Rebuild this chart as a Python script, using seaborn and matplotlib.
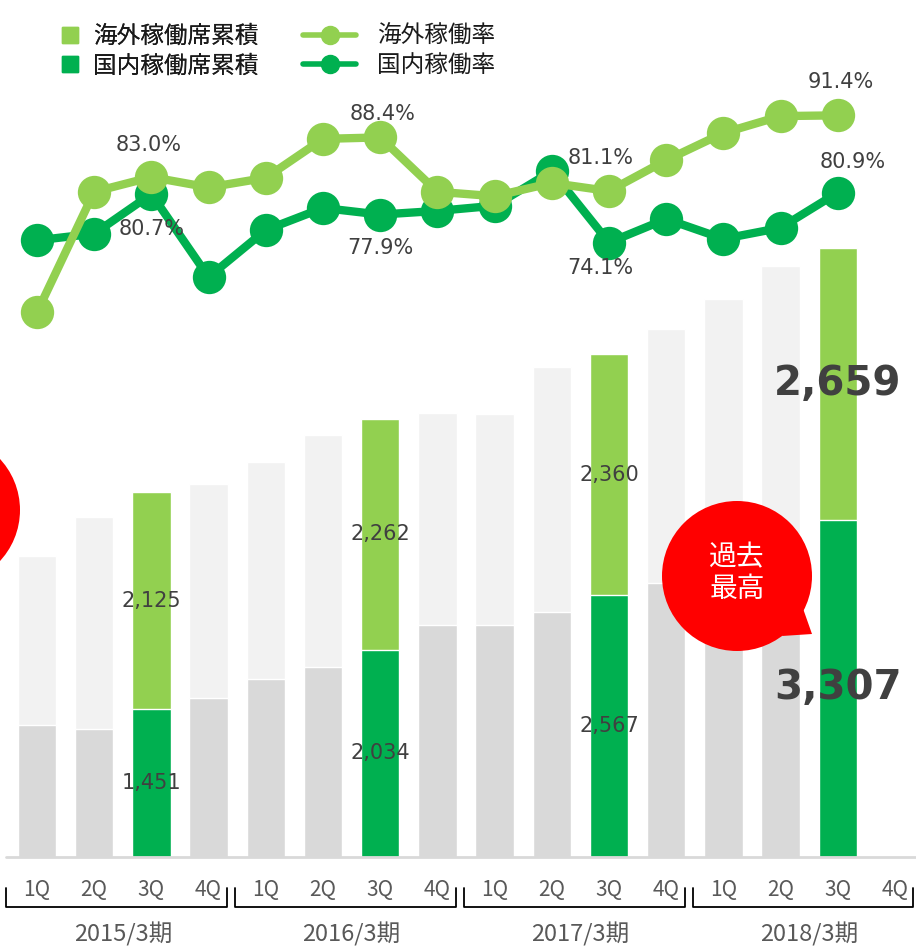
import numpy as np
import pandas as pd
import seaborn as sns
import matplotlib.pyplot as plt
from matplotlib.lines import Line2D
from matplotlib.patches import Circle, Polygon

# quarters (4Q of 2018/3期 has no data yet)
fiscal_years = ["2015/3期", "2016/3期", "2017/3期", "2018/3期"]
quarters = ["1Q", "2Q", "3Q", "4Q"]

# cumulative seats (国内 / 海外)
domestic_seats = [1294, 1255, 1451, 1559, 1745, 1863, 2034, 2275,
                  2275, 2402, 2567, 2686, 2880, 3090, 3307, np.nan]
overseas_seats = [1657, 2078, 2125, 2098, 2128, 2274, 2262, 2078,
                  2068, 2402, 2360, 2490, 2594, 2704, 2659, np.nan]

# utilisation rates (%)
overseas_rate = [64.6, 81.0, 83.0, 81.6, 82.9, 88.2, 88.4, 81.0,
                 80.4, 82.2, 81.1, 85.3, 89.0, 91.3, 91.4]
domestic_rate = [74.4, 75.3, 80.7, 69.4, 75.8, 78.8, 77.9, 78.4,
                 79.1, 83.8, 74.1, 77.3, 74.6, 76.1, 80.9]

# which points get a % label, and label offsets (points)
overseas_labels = {2: (-2, 23), 6: (2, 17), 10: (-6, 24), 14: (2, 24)}
domestic_labels = {2: (0, -25), 6: (0, -24), 10: (-6, -18), 14: (11, 22)}

LIGHT_GREEN = "#92D050"
GREEN = "#00B050"
LIGHT_GRAY = "#F2F2F2"
GRAY = "#D9D9D9"
TEXT = "#404040"

sns.set_theme(style="white")
plt.rcParams["font.family"] = ["DejaVu Sans", "Noto Sans CJK JP"]

keys = [f"{fy}-{q}" for fy in fiscal_years for q in quarters]
df = pd.DataFrame({
    "key": keys,
    "quarter": quarters * len(fiscal_years),
    "domestic": domestic_seats,
    "overseas": overseas_seats,
})
df["total"] = df["domestic"] + df["overseas"]
highlight = df["quarter"] == "3Q"
top_pal = {k: (LIGHT_GREEN if h else LIGHT_GRAY) for k, h in zip(keys, highlight)}
bot_pal = {k: (GREEN if h else GRAY) for k, h in zip(keys, highlight)}

W, H = 916, 948
fig = plt.figure(figsize=(W / 100, H / 100), dpi=100)
base_px = 857
ax = fig.add_axes([0, (H - base_px) / H, 1, base_px / H])

sns.barplot(data=df, x="key", y="total", hue="key", order=keys, palette=top_pal,
            width=0.67, saturation=1, legend=False, ax=ax)
sns.barplot(data=df, x="key", y="domestic", hue="key", order=keys, palette=bot_pal,
            width=0.67, saturation=1, legend=False, ax=ax)

xlim = (-37 / 57.2, (W - 37) / 57.2)
ax.set_xlim(xlim)
ax.set_ylim(0, base_px / 0.102)
ax.set_axis_off()
ax.plot([-0.55, xlim[1]], [0, 0], color=GRAY, lw=2, clip_on=False, zorder=3)

# value labels inside highlighted bars
for i, row in df[highlight].iterrows():
    if np.isnan(row["domestic"]):
        continue
    big = i == len(domestic_rate) - 1
    kw = dict(ha="center", va="center", color=TEXT,
              fontsize=29 if big else 15, fontweight="bold" if big else "normal")
    ax.text(i, row["domestic"] / 2, f"{int(row['domestic']):,}", **kw)
    ax.text(i, row["domestic"] + row["overseas"] / 2, f"{int(row['overseas']):,}", **kw)

# quarter labels, brackets, fiscal year labels
tr = ax.get_xaxis_transform()
for i, q in enumerate(df["quarter"]):
    ax.text(i, -33 / base_px, q, transform=tr, ha="center", va="center",
            fontsize=15, color="#595959", family="Noto Sans CJK JP")
for g, fy in enumerate(fiscal_years):
    x0, x1 = 4 * g - 0.54, 4 * g + 3.32
    ax.plot([x0, x0, x1, x1], [-31 / base_px, -50 / base_px, -50 / base_px, -31 / base_px],
            transform=tr, color="black", lw=1.3, clip_on=False)
    ax.text(4 * g + 1.5, -77 / base_px, fy, transform=tr, ha="center", va="center",
            fontsize=17, color="#595959", family="Noto Sans CJK JP")

# rate lines
ax2 = ax.twinx()
pos = np.arange(len(domestic_rate))
sns.lineplot(x=pos, y=domestic_rate, ax=ax2, color=GREEN, linewidth=6,
             marker="o", markersize=24, markeredgewidth=0)
sns.lineplot(x=pos, y=overseas_rate, ax=ax2, color=LIGHT_GREEN, linewidth=6,
             marker="o", markersize=24, markeredgewidth=0)
ax2.set_xlim(xlim)
ax2.set_ylim(80.7 - (base_px - 194) / 7.35, 80.7 + 194 / 7.35)
ax2.set_axis_off()

for rates, labels in [(overseas_rate, overseas_labels), (domestic_rate, domestic_labels)]:
    for i, (dx, dy) in labels.items():
        ax2.annotate(f"{rates[i]:.1f}%", (i, rates[i]), xytext=(dx, dy),
                     textcoords="offset points", ha="center", va="center",
                     fontsize=15, color=TEXT)

# legend: two separate columns (bars, lines)
leg_kw = dict(loc="upper left", frameon=False, labelspacing=0.28, borderpad=0,
              borderaxespad=0, labelcolor="#1a1a1a",
              prop={"family": "Noto Sans CJK JP", "size": 17})
bar_handles = [Line2D([], [], ls="none", marker="s", ms=11, color=c)
               for c in (LIGHT_GREEN, GREEN)]
line_handles = [Line2D([], [], color=c, lw=4, marker="o", ms=13)
                for c in (LIGHT_GREEN, GREEN)]
leg1 = fig.legend(bar_handles, ["海外稼働席累積", "国内稼働席累積"],
                  bbox_to_anchor=(58 / W, 1 - 25 / H), handlelength=1.0,
                  handletextpad=0.5, **leg_kw)
fig.add_artist(leg1)
fig.legend(line_handles, ["海外稼働率", "国内稼働率"],
           bbox_to_anchor=(303 / W, 1 - 25 / H), handlelength=2.25,
           handletextpad=0.9, **leg_kw)

# speech bubbles drawn in pixel space
ov = fig.add_axes([0, 0, 1, 1])
ov.set_xlim(0, W)
ov.set_ylim(H, 0)
ov.set_axis_off()
ov.add_patch(Circle((-55, 510), 75, color="#FF0000", lw=0))
ov.add_patch(Circle((737, 576), 75, color="#FF0000", lw=0))
ov.add_patch(Polygon([(800, 600), (812, 634), (782, 636)], closed=True, color="#FF0000", lw=0))
ov.text(737, 573, "過去\n最高", ha="center", va="center", color="white",
        fontsize=20, family="Noto Sans CJK JP", linespacing=1.1)

fig.savefig("out.png", dpi=100)
